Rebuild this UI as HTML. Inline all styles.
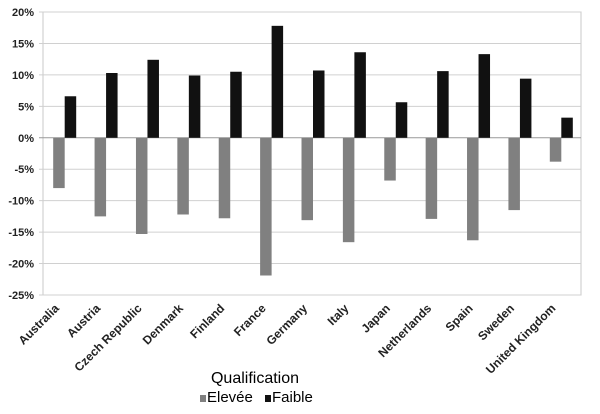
<!DOCTYPE html>
<html><head><meta charset="utf-8"><style>
body{margin:0;background:#fff;}
svg{display:block;font-family:"Liberation Sans",sans-serif;}
</style></head><body>
<svg id="chart" width="600" height="414">
<g id="grid"></g>
<g id="yaxis"></g>
<g id="bars"></g>
<g id="xaxis"></g>
<text x="255" y="383" font-size="16" text-anchor="middle" fill="#000">Qualification</text>
<g>
<rect x="200" y="395" width="6" height="7" fill="#808080"></rect>
<text x="207" y="402" font-size="15" fill="#000">Elevée</text>
</g>
<g>
<rect x="265" y="395" width="6" height="7" fill="#111"></rect>
<text x="272" y="402" font-size="15" fill="#000">Faible</text>
</g>
</svg>
<script>
const categories=["Australia","Austria","Czech Republic","Denmark","Finland","France","Germany","Italy","Japan","Netherlands","Spain","Sweden","United Kingdom"];
const elevee=[-8.0,-12.5,-15.3,-12.2,-12.8,-21.9,-13.1,-16.6,-6.8,-12.9,-16.3,-11.5,-3.8];
const faible=[6.6,10.3,12.4,9.9,10.5,17.8,10.7,13.6,5.65,10.6,13.3,9.4,3.2];
const yTicks=[20,15,10,5,0,-5,-10,-15,-20,-25];
const NS="http://www.w3.org/2000/svg";
const L=43,R=581,T=12,B=295,yMax=20,yMin=-25;
function y(v){return T+(yMax-v)/(yMax-yMin)*(B-T);}
const bw=(R-L)/categories.length;
function xc(i){return L+bw*(i+0.5);}
function mk(tag,attrs,parent){const e=document.createElementNS(NS,tag);for(const k in attrs)e.setAttribute(k,attrs[k]);parent.appendChild(e);return e;}
const grid=document.getElementById('grid'),ya=document.getElementById('yaxis'),bars=document.getElementById('bars'),xa=document.getElementById('xaxis');
mk('rect',{x:L,y:T,width:R-L,height:B-T,fill:'none',stroke:'#c8c8c8','stroke-width':1},grid);
yTicks.forEach(t=>{
  const ln=mk('line',{x1:L-4,x2:R,y1:y(t),y2:y(t),stroke:t===0?'#999':'#d0d0d0','stroke-width':1},grid);
  
  
  const tx=mk('text',{x:L-9,y:y(t)+4,'font-size':11,'font-weight':'bold','text-anchor':'end',fill:'#222'},ya);
  tx.textContent=t+'%';
  
  
});
const w=11.5;
categories.forEach((c,i)=>{
  const cx=xc(i);
  const v1=elevee[i],v2=faible[i];
  const r1=mk('rect',{x:cx-w+1,y:Math.min(y(0),y(v1)),width:w,height:Math.abs(y(v1)-y(0)),fill:'#808080'},bars);
  
  
  const r2=mk('rect',{x:cx+1,y:Math.min(y(0),y(v2)),width:w,height:Math.abs(y(v2)-y(0)),fill:'#111'},bars);
  
  
  const ax=cx-4,ay=B+14;
  const tx=mk('text',{x:ax,y:ay,'font-size':12,'font-weight':'bold','text-anchor':'end',fill:'#222',transform:'rotate(-45 '+ax+' '+ay+')'},xa);
  tx.textContent=c;
  
  
});
</script>
</body></html>
